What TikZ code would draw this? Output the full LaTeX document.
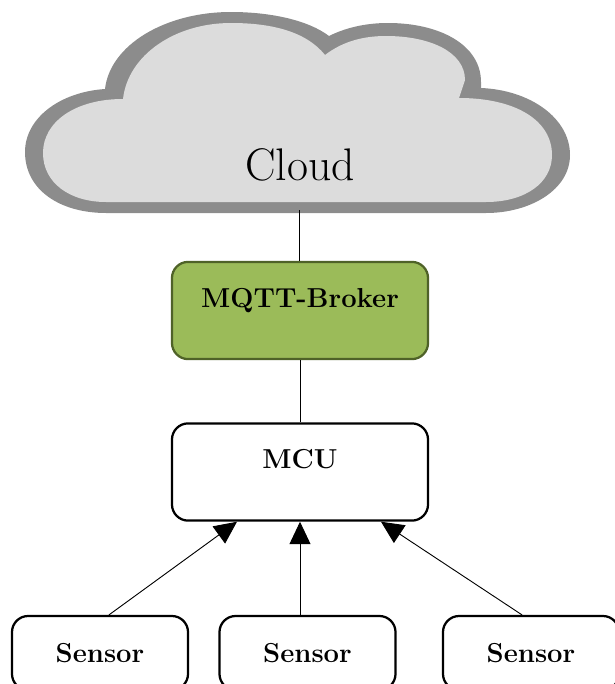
\documentclass[tikz,border=0pt]{standalone}
\usepackage{tikz}
\usetikzlibrary{arrows.meta,calc}
\definecolor{cloudgray}{HTML}{DCDCDC}
\definecolor{cloudedge}{HTML}{8C8C8C}
\definecolor{brokergreen}{HTML}{9BBB59}
\definecolor{brokeredge}{HTML}{4F6228}
\tikzset{
box/.style={draw=black,line width=1.6pt,rounded corners=11.5pt,fill=white,inner sep=0pt,font=\fontsize{19.5}{23}\selectfont\bfseries},
mainbox/.style={box,minimum width=6.4cm,minimum height=2.43cm,text depth=18pt},
sensorbox/.style={box,minimum width=4.4cm,minimum height=1.85cm},
conn/.style={line width=0.65pt},
arr/.style={conn,-{Triangle[length=16pt,width=15pt]}}
}
\begin{document}
\begin{tikzpicture}[x=0.025cm,y=-0.025cm]
\useasboundingbox (0,0) rectangle (614,684);
% cloud: outer edge, then inner area
\fill[cloudedge] (105,89) .. controls (110,45) and (165,12) .. (231,12)
.. controls (270,12) and (308,20) .. (329,36)
.. controls (345,28) and (365,23) .. (388,23)
.. controls (440,23) and (481,45) .. (481,82) -- (481,88)
.. controls (530,90) and (570,118) .. (570,155)
.. controls (570,190) and (530,213) .. (486,213) -- (106,213)
.. controls (60,213) and (25,190) .. (25,152)
.. controls (25,118) and (60,92) .. (105,89) -- cycle;
\fill[cloudgray] (123,99) .. controls (128,55) and (175,23) .. (231,23)
.. controls (268,23) and (305,30) .. (325,55)
.. controls (342,42) and (362,36) .. (386,36)
.. controls (430,36) and (465,52) .. (465,80) -- (459,98)
.. controls (515,98) and (552,120) .. (552,155)
.. controls (552,183) and (525,202) .. (486,202) -- (106,202)
.. controls (70,202) and (43,183) .. (43,153)
.. controls (43,122) and (75,99) .. (123,99) -- cycle;
\node (Cloud) at (300,165) {\fontsize{32.5}{39}\selectfont Cloud};
\coordinate (CloudEnd) at (299,210);
\node[mainbox,fill=brokergreen,draw=brokeredge] (Broker) at (300,310.5) {MQTT-Broker};
\node[mainbox] (MCU) at (300,472) {MCU};
\node[sensorbox] (SensorA) at (100,653) {Sensor};
\node[sensorbox] (SensorB) at (307.5,653) {Sensor};
\node[sensorbox] (SensorC) at (531,653) {Sensor};
\draw[conn] (CloudEnd) -- (CloudEnd |- Broker.north);
\draw[conn] (Broker) -- (MCU);
\draw[arr] ($(SensorA.north)+(9,0)$) -- ($(MCU.south)+(-63,0)$);
\draw[arr] ($(SensorB.north)+(-7.5,0)$) -- (MCU.south);
\draw[arr] ($(SensorC.north)+(-9,0)$) -- ($(MCU.south)+(81,0)$);
\end{tikzpicture}
\end{document}
